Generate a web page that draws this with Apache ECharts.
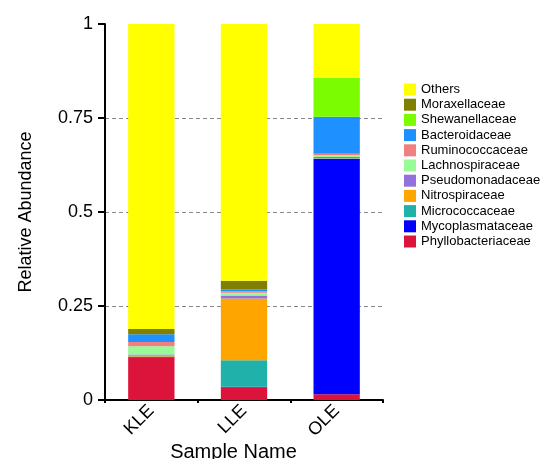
<!DOCTYPE html>
<html>
<head>
<meta charset="utf-8">
<script src="https://cdn.jsdelivr.net/npm/echarts@6/dist/echarts.min.js"></script>
<style>
  html, body { margin: 0; padding: 0; background: #fff; }
  #chart { width: 547px; height: 459px; }
</style>
</head>
<body>
<div id="chart"></div>
<script>
// Samples on the x axis
const samples = ['KLE', 'LLE', 'OLE'];

// Relative abundance of each family per sample (KLE, LLE, OLE)
const phyllobacteriaceae = [0.113, 0.033, 0.015];
const mycoplasmataceae   = [0.002, 0.002, 0.626];
const micrococcaceae     = [0.001, 0.071, 0.001];
const nitrospiraceae     = [0.004, 0.164, 0.001];
const pseudomonadaceae   = [0.001, 0.008, 0.003];
const lachnospiraceae    = [0.022, 0.007, 0.005];
const ruminococcaceae    = [0.011, 0.004, 0.004];
const bacteroidaceae     = [0.021, 0.005, 0.098];
const shewanellaceae     = [0.000, 0.000, 0.104];
const moraxellaceae      = [0.014, 0.023, 0.000];
const others             = [0.811, 0.683, 0.143];

// Y axis ticks
const yTicks = [0, 0.25, 0.5, 0.75, 1];

// Stacking order, bottom to top
const families = [
  { name: 'Phyllobacteriaceae', data: phyllobacteriaceae, color: '#DC143C' },
  { name: 'Mycoplasmataceae',   data: mycoplasmataceae,   color: '#0000FF' },
  { name: 'Micrococcaceae',     data: micrococcaceae,     color: '#20B2AA' },
  { name: 'Nitrospiraceae',     data: nitrospiraceae,     color: '#FFA500' },
  { name: 'Pseudomonadaceae',   data: pseudomonadaceae,   color: '#9370DB' },
  { name: 'Lachnospiraceae',    data: lachnospiraceae,    color: '#98FB98' },
  { name: 'Ruminococcaceae',    data: ruminococcaceae,    color: '#F08080' },
  { name: 'Bacteroidaceae',     data: bacteroidaceae,     color: '#1E90FF' },
  { name: 'Shewanellaceae',     data: shewanellaceae,     color: '#7CFC00' },
  { name: 'Moraxellaceae',      data: moraxellaceae,      color: '#808000' },
  { name: 'Others',             data: others,             color: '#FFFF00' }
];

const FONT = 'Arial, "Liberation Sans", sans-serif';

const chart = echarts.init(document.getElementById('chart'), null, { renderer: 'canvas' });

chart.setOption({
  animation: false,
  backgroundColor: '#ffffff',
  grid: { left: 105, right: 164, top: 24, bottom: 59, containLabel: false, outerBoundsMode: 'none' },
  legend: {
    orient: 'vertical',
    left: 399,
    top: 78,
    itemWidth: 12,
    itemHeight: 12,
    itemGap: 2.2,
    icon: 'rect',
    data: families.map(f => f.name).reverse(),
    textStyle: { fontFamily: FONT, fontSize: 13, color: '#000' }
  },
  xAxis: {
    type: 'category',
    data: samples,
    name: 'Sample Name',
    nameLocation: 'middle',
    nameGap: 42.5,
    nameMoveOverlap: false,
    nameTextStyle: { fontFamily: FONT, fontSize: 20, color: '#000', padding: [0, 21, 0, 0] },
    axisLine: { show: true, lineStyle: { color: '#000', width: 2 } },
    axisTick: { show: true, length: 3, lineStyle: { color: '#000', width: 2 } },
    axisLabel: { rotate: 45, margin: 8, fontFamily: FONT, fontSize: 18, color: '#000' }
  },
  yAxis: {
    type: 'value',
    min: yTicks[0],
    max: yTicks[yTicks.length - 1],
    interval: yTicks[1] - yTicks[0],
    name: 'Relative Abundance',
    nameLocation: 'middle',
    nameGap: 70,
    nameMoveOverlap: false,
    nameTextStyle: { fontFamily: FONT, fontSize: 18, color: '#000' },
    axisLine: { show: true, lineStyle: { color: '#000', width: 2 } },
    axisTick: { show: true, length: 7, lineStyle: { color: '#000', width: 2 } },
    axisLabel: {
      margin: 12,
      fontFamily: FONT,
      fontSize: 18,
      color: '#000',
      formatter: v => String(v)
    },
    splitLine: {
      show: true,
      showMinLine: false,
      showMaxLine: false,
      lineStyle: { color: '#888', type: [4, 3], width: 1 }
    }
  },
  series: families.map(f => ({
    name: f.name,
    type: 'bar',
    stack: 'total',
    barWidth: '50%',
    data: f.data,
    itemStyle: { color: f.color },
    emphasis: { disabled: true }
  }))
});
</script>
</body>
</html>
